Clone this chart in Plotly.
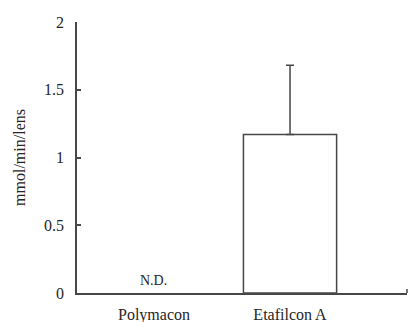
import plotly.graph_objects as go

categories = ["Polymacon", "Etafilcon A"]
values = [0, 1.17]
errors_plus = [0, 0.51]
nd_labels = ["N.D.", ""]
y_ticks = [0, 0.5, 1, 1.5, 2]
y_tick_labels = ["0", "0.5", "1", "1.5", "2"]

line_col = "#474747"
serif = "Liberation Serif, Times New Roman, serif"
font = dict(family=serif, size=16, color="#262626")

# N.D. (not detected) values are not drawn as bars
plot_vals = [v if v > 0 else None for v in values]
plot_err = [e if v > 0 else None for v, e in zip(values, errors_plus)]

fig = go.Figure()
fig.add_trace(go.Bar(
    x=list(range(len(categories))), y=plot_vals, width=0.685,
    marker=dict(color="white", line=dict(color=line_col, width=1.5)),
    error_y=dict(type="data", array=plot_err, arrayminus=[0] * len(values), symmetric=False,
                 color=line_col, thickness=1.5, width=4, visible=True),
    showlegend=False,
))
for i, t in enumerate(nd_labels):
    if t:
        fig.add_annotation(x=i, y=values[i], text=t, showarrow=False,
                           yanchor="bottom", yshift=3,
                           font=dict(size=14, family=serif, color="#262626"))

fig.update_layout(
    width=408, height=322,
    margin=dict(l=77, r=1, t=22, b=29),
    paper_bgcolor="white", plot_bgcolor="white",
    font=font,
    xaxis=dict(range=[-0.566, 1.86], tickvals=list(range(len(categories))), ticktext=categories,
               showline=True, linecolor=line_col, linewidth=1.5, ticks="",
               showgrid=False, zeroline=False, ticklabelstandoff=6, automargin=False,
               tickfont=dict(size=16)),
    yaxis=dict(range=[0, 2], tickvals=y_ticks, ticktext=y_tick_labels,
               showline=True, linecolor=line_col, linewidth=1.5,
               ticks="inside", ticklen=4, tickcolor=line_col, tickwidth=1.5,
               showgrid=False, zeroline=False, ticklabelstandoff=8, automargin=False,
               tickfont=dict(size=16),
               title=dict(text="mmol/min/lens", standoff=14, font=dict(size=16))),
)
fig.add_shape(type="line", xref="paper", yref="paper", x0=1, x1=1, y0=0, y1=0.015,
              line=dict(color=line_col, width=1.5))
fig.write_html("out.html")
